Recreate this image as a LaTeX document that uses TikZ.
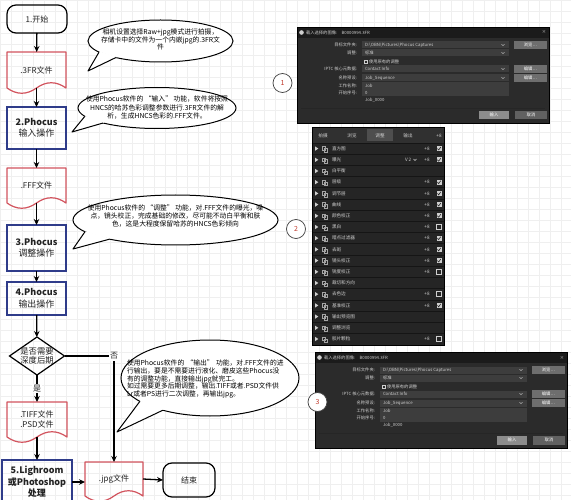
\documentclass[tikz,border=0pt]{standalone}
\usepackage{fontspec}
\setmainfont{Noto Sans CJK SC}
\usetikzlibrary{shapes.geometric,arrows.meta,calc}
\definecolor{boxblue}{HTML}{2F3C8A}
\definecolor{docred}{HTML}{D2545E}
\definecolor{txt}{HTML}{222222}
\definecolor{gridc}{HTML}{EFEFEF}
\definecolor{numred}{HTML}{C0392B}
\definecolor{winbg}{HTML}{2B2B2B}
\definecolor{wintitle}{HTML}{1B1B1B}
\definecolor{winfield}{HTML}{3D3D3D}
\definecolor{winbtn}{HTML}{6E6E6E}
\definecolor{wintext}{HTML}{CFCFCF}
\definecolor{panelbg}{HTML}{252525}
\definecolor{panelhead}{HTML}{303030}
\definecolor{tabsel}{HTML}{4E4E4E}
\definecolor{panelsep}{HTML}{151515}

\newcommand\fs[2]{\fontsize{#1}{#2}\selectfont}

\tikzset{
  every node/.style={inner sep=0pt, outer sep=0pt},
  flow/.style={draw=boxblue, line width=1.5pt, minimum width=59pt, text=txt, align=center, font=\fs{9}{11.5}},
  termbox/.style={draw=black, line width=1.2pt, rounded corners=9pt, align=center, text=txt, font=\fs{8}{10}},
  docbox/.style={align=center, text=txt, font=\fs{8}{9.5}},
  docline/.style={draw=docred, line width=1.2pt, line join=round},
  decision/.style={diamond, draw=black, line width=1.2pt, minimum width=55pt, minimum height=38pt},
  conn/.style={line width=1.3pt, -{Stealth[length=6pt,width=5.5pt]}},
  bubbletext/.style={align=center, text=black, font=\fs{6.8}{7.6}},
  bubbleshape/.style={ellipse, draw=black, line width=1pt, fill=white},
  tailline/.style={draw=black, line width=1pt, line join=round},
  numcircle/.style={circle, draw=black!75, fill=white, line width=0.7pt, minimum size=19pt, text=numred, font=\fs{7}{8}},
  lbl/.style={fill=white, text=txt, font=\fs{8}{9}, inner sep=1.2pt},
  wt/.style={text=wintext, font=\fs{4.3}{5}},
  ptext/.style={text=wintext, font=\fs{4.6}{5}},
}

% document shape: name, x1, y1, x2, ybase, text
\newcommand\docshape[6]{%
  \node[docbox, minimum width={#4-#2}, minimum height={#5-#3}] (#1) at ({(#2+#4)/2},{(#3+#5)/2}) {#6};
  \draw[docline] (#2,#5) -- (#2,#3) -- (#4,#3) -- (#4,#5)
    .. controls ({#4-(#4-#2)/6},{#5-7}) and ({(#2+#4)/2+(#4-#2)/6},{#5-7}) .. ({(#2+#4)/2},#5)
    .. controls ({(#2+#4)/2-(#4-#2)/6},{#5+7}) and ({#2+(#4-#2)/6},{#5+7}) .. (#2,#5) -- cycle;
}
% callout: name cx cy rx ry a1 a2 tipx tipy
\newcommand\callout[9]{%
  \node[bubbleshape, minimum width={2*#4}, minimum height={2*#5}] (#1) at (#2,#3) {};
  \coordinate (#1-b1) at ({#2+#4*cos(#6)},{#3+#5*sin(#6)});
  \coordinate (#1-b2) at ({#2+#4*cos(#7)},{#3+#5*sin(#7)});
  \coordinate (#1-tip) at (#8,#9);
  \fill[white] (#1-b1) -- (#1-tip) -- (#1-b2) -- ($(#1-b2)!1.5pt!(#1.center)$) -- ($(#1-b1)!1.5pt!(#1.center)$) -- cycle;
  \draw[tailline] (#1-b1) -- (#1-tip) -- (#1-b2);
}
% import dialog screenshot at top-left (x,y)
\newcommand\loaddialog[2]{%
\begin{scope}[shift={(#1,#2)}]
  \fill[winbg] (0,0) rectangle (252,96);
  \fill[wintitle] (0,0) rectangle (252,11);
  \draw[black, line width=0.8pt] (0,0) rectangle (252,96);
  \fill[wintext] (4.5,5.5) circle (2.3);
  \node[wt, anchor=west] at (9,5.5) {载入选择的图像:\quad B0000994.3FR};
  \node[wt] at (247,5.5) {×};
  \foreach \yy/\l in {18/目标文件夹:, 26/调整:, 42/IPTC 核心元数据:, 51/名称预设:, 59/工作名称:, 66/开始序号:}
    \node[wt, anchor=east] at (60,\yy) {\l};
  \foreach \yy in {18,26,42,51,59,66}
    \fill[winfield] (65,\yy-3.5) rectangle (212,\yy+3.5);
  \foreach \yy in {18,26,42,51}
    \draw[wintext, line width=0.35pt] (204.5,\yy-0.8) -- (206,\yy+0.6) -- (207.5,\yy-0.8);
  \node[wt, anchor=west] at (68,18) {D:\textbackslash OBN\textbackslash Pictures\textbackslash Phocus Captures};
  \node[wt, anchor=west] at (68,26) {标准};
  \draw[wintext, line width=0.35pt] (67,33) rectangle (70,36);
  \node[wt, anchor=west] at (72,34.5) {使用原有的调整};
  \node[wt, anchor=west] at (68,42) {Contact Info};
  \node[wt, anchor=west] at (68,51) {Job\_Sequence};
  \node[wt, anchor=west] at (68,59) {Job};
  \node[wt, anchor=west] at (68,66) {0};
  \node[wt, anchor=west] at (68,73.5) {Job\_0000};
  \foreach \yy/\b in {18/浏览\ldots, 42/编辑\ldots, 51/编辑\ldots}{
    \fill[winbtn] (217,\yy-3.8) rectangle (250,\yy+3.8);
    \node[wt, text=white] at (233.5,\yy) {\b};
  }
  \draw[black!85!white, line width=0.5pt] (4,81) -- (248,81);
  \fill[black!45!white] (182,84) rectangle (212,92.5);
  \node[wt, text=white] at (197,88.2) {输入};
  \fill[black!62!white] (218,84) rectangle (250,92.5);
  \node[wt, text=white] at (234,88.2) {取消};
\end{scope}}

\begin{document}
\begin{tikzpicture}[x=1pt,y=-1pt]
\useasboundingbox (0,0) rectangle (571,500);
\fill[white] (0,0) rectangle (571,500);
\foreach \g in {0,11,...,571} \draw[gridc, line width=0.4pt] (\g,0) -- (\g,500);
\foreach \g in {0,11,...,500} \draw[gridc, line width=0.4pt] (0,\g) -- (571,\g);

% ---------- flow chart ----------
\node[termbox, minimum width=60pt, minimum height=28pt] (start) at (37,19) {1.开始};
\docshape{fr}{7}{52}{66}{88}{.3FR文件}
\node[flow, minimum height=42pt] (inp) at (36.5,128) {{\bfseries 2.Phocus}\\输入操作};
\docshape{fff}{7}{168}{66}{203}{.FFF文件}
\node[flow, minimum height=46pt] (adj) at (36.5,248) {{\bfseries 3.Phocus}\\调整操作};
\node[flow, minimum height=33pt] (outp) at (36.5,298.5) {{\bfseries 4.Phocus}\\输出操作};
\node[decision] (dia) at (37,356) {};
\node[text=txt, font=\fs{8.3}{9.5}, align=center] (diatext) at (37,356) {是否需要\\深度后期};
\docshape{tiff}{7}{402}{67}{437}{.TIFF文件\\.PSD文件}
\node[flow, minimum width=70pt, minimum height=44pt, font=\fs{9}{11.5}\bfseries] (lr) at (37,482) {5.Lighroom\\或Photoshop\\处理};
\docshape{jpg}{85}{462}{143}{496}{.jpg文件}
\node[termbox, minimum width=52pt, minimum height=34pt] (end) at (189,480) {结束};

\draw[conn] (start) -- (fr);
\draw[conn] (fr.south) -- (inp.north);
\draw[conn] (inp) -- (fff);
\draw[conn] (fff.south) -- (adj.north);
\draw[conn] (adj) -- (outp);
\draw[conn] (outp) -- (dia);
\draw[conn] (dia.south) -- node[lbl] {是} (tiff.north);
\draw[conn] (dia.east) -- (dia.east -| jpg.north) node[lbl] {否} -- (jpg.north);
\draw[conn] (tiff.south) -- (lr.north);
\draw[conn] (lr.east) -- (lr.east -| jpg.west);
\draw[conn] (jpg.east) -- (end.west);

% ---------- callouts ----------
\callout{e1}{160.5}{41}{72.5}{21}{128}{148}{88}{71}
\node[bubbletext] (c1) at (160.5,39.5) {相机设置选择Raw+jpg模式进行拍摄，\\存储卡中的文件为一个内嵌jpg的.3FR文\\件};
\callout{e2}{157}{108}{79}{20.5}{133}{156}{72}{132}
\node[bubbletext, font=\fs{6.8}{8.2}] (c2) at (157,107.5) {使用Phocus软件的 “输入” 功能，软件将按照\\HNCS的哈苏色彩调整参数进行.3FR文件的解\\析，生成HNCS色彩的.FFF文件。};
\callout{e3}{175.5}{220}{102.5}{25}{130}{152}{73}{249}
\node[bubbletext] (c3) at (175.5,216) {使用Phocus软件的 “调整” 功能，对.FFF文件的曝光，噪\\点，镜头校正，完成基础的修改，尽可能不动白平衡和肤\\色，这是大程度保留哈苏的HNCS色彩倾向};
\callout{e4}{210}{378}{89}{38}{122}{142}{117}{432}
\node[bubbletext, align=left, text width=170pt] (c4) at (212,379) {使用Phocus软件的 “输出” 功能，对.FFF文件的进\\行输出，要是不需要进行液化、磨皮这些Phocus没\\有的调整功能，直接输出jpg就完工。\\如过需要更多后期调整，输出.TIFF或者.PSD文件供\\Lr或者PS进行二次调整，再输出jpg。};

% ---------- screenshots ----------
\loaddialog{297}{27}
\loaddialog{315}{352}

\begin{scope}[shift={(312,127)}]
  \fill[panelbg] (0,0) rectangle (132,218);
  \fill[panelhead] (0,0) rectangle (132,16);
  \fill[tabsel] (55,2.5) rectangle (81,14.5);
  \foreach \x/\t in {11/拍摄,40/浏览,68/调整,96/输出}
    \node[ptext] at (\x,8.5) {\t};
  \node[ptext] at (127,8.5) {+8};
  \foreach \n/\p/\c [count=\i from 0] in {直方图/1/1, 曝光/1/1, 白平衡/0/2, 层级/1/1, 调节层/1/1, 曲线/1/1, 颜色校正/1/1, 黑白/1/0, 暗点过滤器/1/1, 去斑/1/1, 镜头校正/1/1, 锐度校正/1/0, 裁切和方向/0/2, 去色边/1/0, 基准校正/1/1, 输出预览图/0/2, 调整浏览/0/2, 胶片颗粒/1/0}{
    \pgfmathsetmacro\yy{16+11.2*\i+5.6}
    \draw[panelsep, line width=0.6pt] (0,{16+11.2*\i}) -- (132,{16+11.2*\i});
    \fill[wintext] (3,\yy-2.2) -- (6.3,\yy) -- (3,\yy+2.2) -- cycle;
    \draw[wintext!80!black, line width=0.35pt] (10,\yy-2) rectangle (13.5,\yy+1.5) (11.8,\yy-0.2) rectangle (15.3,\yy+3.3);
    \node[ptext, anchor=west] at (20,\yy) {\n};
    \ifnum\p=1 \node[ptext] at (115,\yy) {+8}; \fi
    \ifnum\c=0 \draw[wintext, line width=0.5pt] (124.5,\yy-2.5) rectangle (129.5,\yy+2.5); \fi
    \ifnum\c=1
      \fill[wintext] (124.5,\yy-2.5) rectangle (129.5,\yy+2.5);
      \draw[panelbg, line width=0.6pt] (125.4,\yy) -- (126.7,\yy+1.4) -- (128.7,\yy-1.5);
    \fi
    \ifnum\i=1
      \node[ptext, anchor=west] at (93,\yy) {V 2};
      \draw[wintext, line width=0.4pt] (101.5,\yy-0.8) -- (103,\yy+0.7) -- (104.5,\yy-0.8);
    \fi
  }
  \draw[black, line width=0.6pt] (0,0) rectangle (132,218);
\end{scope}

% ---------- numbered circles ----------
\node[numcircle] (n1) at (282.5,83) {1};
\node[numcircle] (n2) at (296,229) {2};
\node[numcircle] (n3) at (317.5,402) {3};
\end{tikzpicture}
\end{document}
